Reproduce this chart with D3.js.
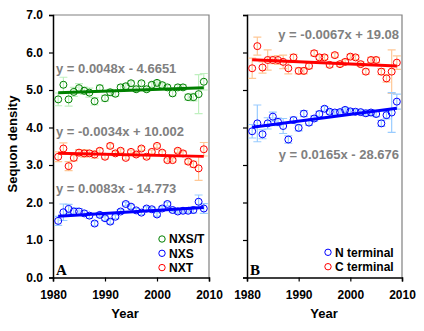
<!DOCTYPE html>
<html>
<head>
<meta charset="utf-8">
<script src="https://cdn.jsdelivr.net/npm/d3@7"></script>
<style>
  body { margin: 0; background: #fff; }
  svg { display: block; font-family: Arial, "Liberation Sans", sans-serif; }
</style>
</head>
<body>
<svg id="drawing_region"></svg>
<script>
// years 1981-2009
const years = [1981,1982,1983,1984,1985,1986,1987,1988,1989,1990,1991,1992,1993,1994,1995,
               1996,1997,1998,1999,2000,2001,2002,2003,2004,2005,2006,2007,2008,2009];

// panel A
const nxstValues = [4.75,5.14,4.75,4.95,5.05,4.98,4.93,4.70,5.05,4.78,4.94,4.90,5.07,5.10,5.18,
                    5.02,5.18,5.02,5.14,5.19,5.13,5.07,4.91,5.07,5.07,4.81,4.81,4.89,5.22];
const nxstErrors = [0.17,0.20,0.18,0.12,0.12,0.10,0.12,0.10,0.08,0.08,0.08,0.07,0.07,0.07,0.06,
                    0.06,0.06,0.06,0.06,0.06,0.06,0.06,0.07,0.07,0.07,0.08,0.10,0.52,0.22];
const nxsValues  = [1.51,1.74,1.83,1.76,1.76,1.71,1.65,1.44,1.67,1.58,1.49,1.62,1.76,1.96,1.89,
                    1.79,1.73,1.84,1.82,1.68,1.84,1.96,1.80,1.76,1.78,1.78,1.80,2.02,1.84];
const nxsErrors  = [0.12,0.22,0.12,0.10,0.08,0.07,0.07,0.06,0.06,0.06,0.06,0.05,0.05,0.05,0.05,
                    0.05,0.05,0.05,0.05,0.05,0.05,0.05,0.05,0.05,0.06,0.06,0.08,0.18,0.13];
const nxtValues  = [3.22,3.44,2.97,3.19,3.33,3.31,3.31,3.28,3.38,3.22,3.51,3.31,3.38,3.19,3.35,
                    3.28,3.44,3.22,3.35,3.51,3.33,3.13,3.13,3.38,3.31,3.09,3.02,2.91,3.42];
const nxtErrors  = [0.13,0.15,0.12,0.08,0.08,0.10,0.07,0.10,0.06,0.06,0.06,0.06,0.05,0.05,0.05,
                    0.05,0.05,0.05,0.05,0.05,0.05,0.05,0.05,0.05,0.06,0.06,0.08,0.32,0.18];

// panel B
const nTermValues = [3.90,4.11,3.82,4.11,4.29,4.15,4.04,3.68,4.20,3.99,4.37,4.13,4.24,4.36,4.50,
                     4.42,4.40,4.41,4.47,4.43,4.42,4.41,4.38,4.40,4.36,4.11,4.33,4.40,4.69];
const nTermErrors = [0.18,0.49,0.12,0.15,0.12,0.10,0.20,0.10,0.08,0.08,0.08,0.07,0.07,0.07,0.06,
                     0.06,0.06,0.06,0.06,0.06,0.06,0.06,0.07,0.07,0.07,0.08,0.10,0.53,0.20];
const cTermValues = [5.58,6.17,5.60,5.80,5.80,5.80,5.75,5.58,5.87,5.51,5.51,5.64,5.98,5.87,5.87,
                     5.67,5.93,5.69,5.75,5.89,5.87,5.69,5.49,5.80,5.80,5.49,5.31,5.49,5.73];
const cTermErrors = [0.27,0.24,0.15,0.27,0.10,0.12,0.18,0.15,0.08,0.08,0.08,0.07,0.07,0.07,0.06,
                     0.06,0.06,0.06,0.06,0.06,0.06,0.06,0.07,0.07,0.07,0.08,0.10,0.58,0.18];

const xTicks = [1980, 1990, 2000, 2010];
const yTicks = [0, 1, 2, 3, 4, 5, 6, 7];

const svg = d3.select('#drawing_region')
    .attr('width', 424)
    .attr('height', 331);

const colors = {
    green: {mark: '#008000', err: '#c0f0c0'},
    blue:  {mark: '#0000ff', err: '#99ccff'},
    red:   {mark: '#ff0000', err: '#ffc896'}
};

function fitLine(xs, ys) {
    const mx = d3.mean(xs), my = d3.mean(ys);
    let sxy = 0, sxx = 0;
    xs.forEach((x, i) => { sxy += (x - mx) * (ys[i] - my); sxx += (x - mx) * (x - mx); });
    const b = sxy / sxx;
    return {slope: b, intercept: my - b * mx};
}

function drawPanel(cfg) {
    const xscale = d3.scaleLinear().domain([1980, 2010]).range([cfg.left, cfg.right]);
    const yscale = d3.scaleLinear().domain([0, 7]).range([277.5, 15]);

    const g = svg.append('g');

    // grey frame top / right
    g.append('path')
        .attr('d', `M${cfg.left},15H${cfg.right}V277.5`)
        .attr('fill', 'none')
        .attr('stroke', '#808080')
        .attr('stroke-width', 1.2);

    const yaxis = d3.axisLeft(yscale)
        .tickValues(yTicks)
        .tickSize(4)
        .tickPadding(6)
        .tickFormat(cfg.yLabels ? d3.format('.1f') : '');
    g.append('g')
        .attr('transform', `translate(${cfg.left},0)`)
        .call(yaxis)
        .call(a => a.select('.domain').attr('stroke-width', 1.5))
        .selectAll('text')
        .attr('font-size', '12px')
        .attr('font-weight', 'bold')
        .attr('fill', '#000');

    const xaxis = d3.axisBottom(xscale)
        .tickValues(xTicks)
        .tickSize(4)
        .tickPadding(9)
        .tickFormat(d3.format('d'));
    g.append('g')
        .attr('transform', 'translate(0,277.5)')
        .call(xaxis)
        .call(a => a.select('.domain').attr('stroke-width', 1.5))
        .selectAll('text')
        .attr('font-size', '12px')
        .attr('font-weight', 'bold')
        .attr('fill', '#000');

    g.selectAll('.tick line').attr('stroke-width', 1.2);
    g.selectAll('.domain').attr('stroke', '#000');

    cfg.series.forEach(s => {
        const c = colors[s.color];
        const data = years.map((y, i) => ({x: y, y: s.values[i], e: s.errors[i]}));
        const eg = g.append('g').attr('stroke', c.err).attr('stroke-width', 1.2);
        data.forEach(d => {
            const y0 = yscale(d.y - d.e), y1 = yscale(d.y + d.e), cx = xscale(d.x);
            eg.append('path').attr('d', `M${cx},${y0}V${y1}M${cx - 4},${y0}H${cx + 4}M${cx - 4},${y1}H${cx + 4}`);
        });
    });

    cfg.series.forEach(s => {
        const c = colors[s.color];
        const data = years.map((y, i) => ({x: y, y: s.values[i]}));
        g.append('g').selectAll('circle')
            .data(data)
            .join('circle')
            .attr('cx', d => xscale(d.x))
            .attr('cy', d => yscale(d.y))
            .attr('r', 3.5)
            .attr('fill', 'none')
            .attr('stroke', c.mark)
            .attr('stroke-width', 1);
    });

    cfg.series.forEach(s => {
        const c = colors[s.color];
        const fit = fitLine(years, s.values);
        const x0 = years[0], x1 = years[years.length - 1];
        g.append('line')
            .attr('x1', xscale(x0)).attr('y1', yscale(fit.slope * x0 + fit.intercept))
            .attr('x2', xscale(x1)).attr('y2', yscale(fit.slope * x1 + fit.intercept))
            .attr('stroke', c.mark)
            .attr('stroke-width', 3);
    });

    cfg.equations.forEach(e => {
        g.append('text')
            .attr('x', e.x).attr('y', e.y)
            .attr('text-anchor', e.anchor)
            .attr('font-size', '13px')
            .attr('font-weight', 'bold')
            .attr('fill', '#808080')
            .text(e.text);
    });

    cfg.legend.forEach((l, i) => {
        const ly = cfg.legendY + i * cfg.legendStep;
        g.append('circle')
            .attr('cx', cfg.legendX).attr('cy', ly).attr('r', 3.2)
            .attr('fill', 'none').attr('stroke', colors[l.color].mark).attr('stroke-width', 1);
        g.append('text')
            .attr('x', cfg.legendX + 7).attr('y', ly)
            .attr('dy', '0.36em')
            .attr('font-size', '12px')
            .attr('font-weight', 'bold')
            .attr('fill', '#000')
            .text(l.label);
    });

    g.append('text')
        .attr('x', cfg.left + 3).attr('y', 275)
        .attr('font-family', '"Liberation Serif", "Times New Roman", serif')
        .attr('font-size', '15px')
        .attr('font-weight', 'bold')
        .text(cfg.letter);

    g.append('text')
        .attr('x', cfg.yearX).attr('y', 318)
        .attr('text-anchor', 'middle')
        .attr('font-size', '13px')
        .attr('font-weight', 'bold')
        .text('Year');
}

drawPanel({
    left: 53, right: 209, yLabels: true, letter: 'A', yearX: 125,
    series: [
        {color: 'green', values: nxstValues, errors: nxstErrors},
        {color: 'red', values: nxtValues, errors: nxtErrors},
        {color: 'blue', values: nxsValues, errors: nxsErrors}
    ],
    equations: [
        {x: 56, y: 73, anchor: 'start', text: 'y = 0.0048x - 4.6651'},
        {x: 56, y: 136, anchor: 'start', text: 'y = -0.0034x + 10.002'},
        {x: 56, y: 193, anchor: 'start', text: 'y = 0.0083x - 14.773'}
    ],
    legend: [
        {color: 'green', label: 'NXS/T'},
        {color: 'blue', label: 'NXS'},
        {color: 'red', label: 'NXT'}
    ],
    legendX: 162, legendY: 239, legendStep: 14.3
});

drawPanel({
    left: 247, right: 402, yLabels: false, letter: 'B', yearX: 324,
    series: [
        {color: 'red', values: cTermValues, errors: cTermErrors},
        {color: 'blue', values: nTermValues, errors: nTermErrors}
    ],
    equations: [
        {x: 399, y: 39, anchor: 'end', text: 'y = -0.0067x + 19.08'},
        {x: 399, y: 159, anchor: 'end', text: 'y = 0.0165x - 28.676'}
    ],
    legend: [
        {color: 'blue', label: 'N terminal'},
        {color: 'red', label: 'C terminal'}
    ],
    legendX: 328, legendY: 252.3, legendStep: 14.4
});

svg.append('text')
    .attr('transform', 'translate(17,144) rotate(-90)')
    .attr('text-anchor', 'middle')
    .attr('font-size', '13px')
    .attr('font-weight', 'bold')
    .text('Sequon density');
</script>
</body>
</html>
